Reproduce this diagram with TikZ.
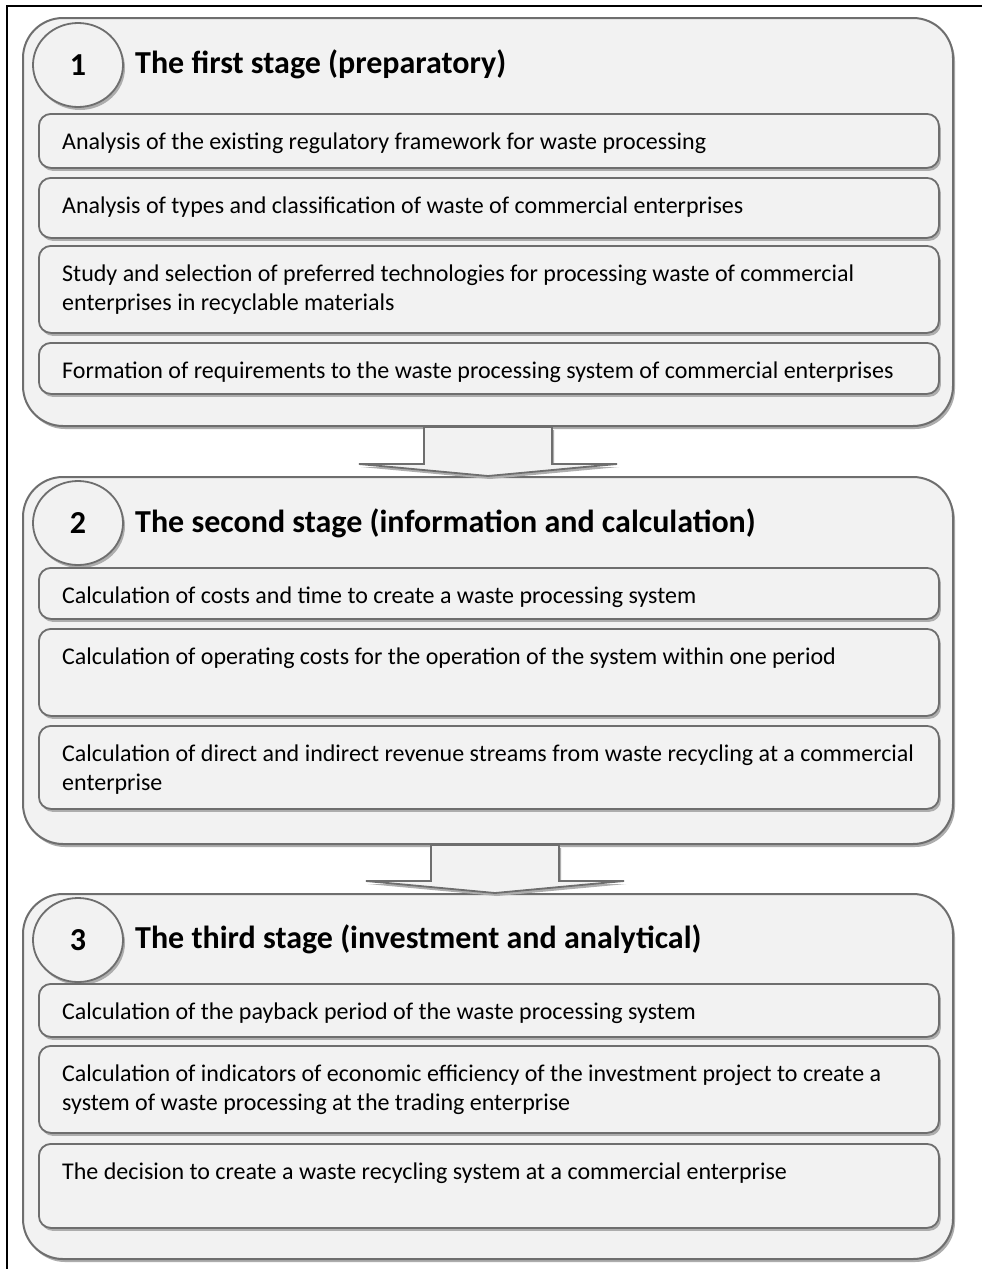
\documentclass[tikz,border=0pt]{standalone}
\usepackage{fontspec}
\setmainfont{Carlito}
\usetikzlibrary{calc,shadows,shapes.geometric}
\definecolor{boxfill}{HTML}{F2F2F2}
\definecolor{boxline}{HTML}{6E6E6E}
\definecolor{boxshade}{HTML}{ADADAD}
% block arrow between two stages: from, to, x offset
\newcommand{\stagearrow}[3]{%
  \draw[blockarr]
    ($(#1.south)+(#3-64,0)$) -- ($(#2.north)+(#3-64,-12)$)
    -- ($(#2.north)+(#3-129,-12)$) -- ($(#2.north)+(#3,0)$)
    -- ($(#2.north)+(#3+129,-12)$) -- ($(#2.north)+(#3+64,-12)$)
    -- ($(#1.south)+(#3+64,0)$) -- cycle;
}

\begin{document}
\begin{tikzpicture}[
  x=1pt, y=-1pt,
  shade/.style={
    drop shadow={shadow xshift=2pt, shadow yshift=-3pt,
      fill=boxshade, opacity=1}
  },
  stage/.style={
    draw=boxline, fill=boxfill, line width=2pt, shade,
    rounded corners=40pt, minimum width=930pt,
    anchor=north west, inner sep=0pt
  },
  item/.style={
    draw=boxline, fill=boxfill, line width=1.8pt, shade,
    rounded corners=12pt, minimum width=900pt,
    anchor=north west, inner sep=0pt
  },
  badge/.style={
    ellipse, draw=boxline, fill=boxfill, line width=1.8pt, shade,
    minimum width=90pt, minimum height=84pt, inner sep=0pt,
    font=\fontsize{32}{38}\selectfont\bfseries
  },
  title/.style={
    anchor=base west, inner sep=0pt,
    font=\fontsize{32}{38}\selectfont\bfseries
  },
  itemtext/.style={
    anchor=base west, inner sep=0pt, align=left,
    font=\fontsize{24}{29}\selectfont
  },
  blockarr/.style={
    draw=boxline, fill=boxfill, line width=1.8pt, shade,
    line join=miter
  }
]
  \fill[white] (0,0) rectangle (982,1269);
  \useasboundingbox (0,0) rectangle (982,1269);
  \draw[line width=2pt] (7,1269) |- (982,6);

  % stages
  \node[stage, minimum height=408pt] (st1) at (22,17) {};
  \node[stage, minimum height=367pt] (st2) at (22,476) {};
  \node[stage, minimum height=365pt] (st3) at (22,893) {};

  \stagearrow{st1}{st2}{0}
  \stagearrow{st2}{st3}{7}

  \node[badge] (n1) at (78,65) {1};
  \node[badge] (n2) at (78,523) {2};
  \node[badge] (n3) at (78,940) {3};
  \node[title] (t1) at (135,73) {The first stage (preparatory)};
  \node[title] (t2) at (135,532) {The second stage (information and calculation)};
  \node[title] (t3) at (135,948) {The third stage (investment and analytical)};

  % steps of each stage (name/top/height/lines/text)
  \foreach \nm/\top/\h/\n/\txt in {
    s1a/113/54/1/{Analysis of the existing regulatory framework for waste processing},
    s1b/177/60/1/{Analysis of types and classification of waste of commercial enterprises},
    s1c/245/87/2/{Study and selection of preferred technologies for processing waste of commercial\\enterprises in recyclable materials},
    s1d/342/51/1/{Formation of requirements to the waste processing system of commercial enterprises},
    s2a/567/51/1/{Calculation of costs and time to create a waste processing system},
    s2b/628/87/1/{Calculation of operating costs for the operation of the system within one period},
    s2c/725/83/2/{Calculation of direct and indirect revenue streams from waste recycling at a commercial\\enterprise},
    s3a/983/53/1/{Calculation of the payback period of the waste processing system},
    s3b/1045/87/2/{Calculation of indicators of economic efficiency of the investment project to create a\\system of waste processing at the trading enterprise},
    s3c/1143/84/1/{The decision to create a waste recycling system at a commercial enterprise}} {
    \node[item, minimum height=\h pt] (\nm) at (38,\top) {};
    \node[itemtext] (\nm-t) at ($(\nm.north west)+(24,7+29*\n)$) {\txt};
  }
\end{tikzpicture}
\end{document}
